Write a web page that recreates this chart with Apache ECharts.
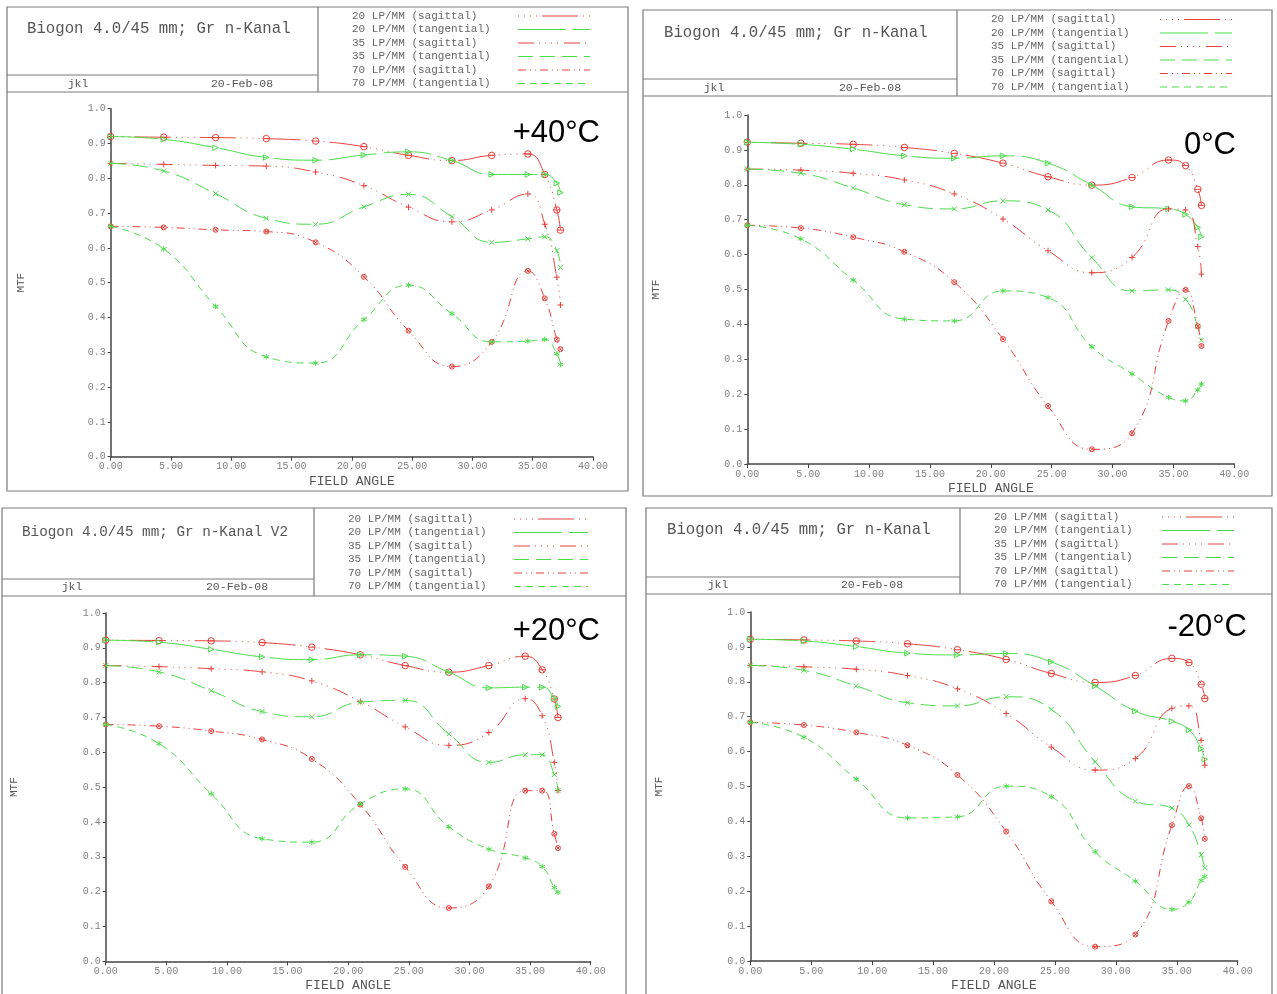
<!DOCTYPE html>
<html>
<head>
<meta charset="utf-8">
<script src="https://cdn.jsdelivr.net/npm/echarts@6/dist/echarts.min.js"></script>
<style>
  html, body { margin: 0; padding: 0; background: #fff; }
  #chart { width: 1277px; height: 994px; }
</style>
</head>
<body>
<div id="chart"></div>
<script>
// Field angles (degrees) at which MTF was evaluated
const fieldAngles = [0, 4.4, 8.7, 12.9, 17.0, 21.0, 24.7, 28.3, 31.6, 34.6, 36.0, 37.0, 37.3];

const seriesNames = [
  '20 LP/MM (sagittal)', '20 LP/MM (tangential)',
  '35 LP/MM (sagittal)', '35 LP/MM (tangential)',
  '70 LP/MM (sagittal)', '70 LP/MM (tangential)'
];

// +40°C
const p40_s20 = [0.920, 0.918, 0.917, 0.914, 0.907, 0.891, 0.866, 0.851, 0.866, 0.870, 0.811, 0.709, 0.651];
const p40_t20 = [0.920, 0.912, 0.888, 0.860, 0.852, 0.867, 0.876, 0.851, 0.811, 0.811, 0.811, 0.786, 0.759];
const p40_s35 = [0.843, 0.840, 0.837, 0.835, 0.818, 0.779, 0.717, 0.675, 0.709, 0.755, 0.668, 0.516, 0.436];
const p40_t35 = [0.843, 0.821, 0.756, 0.685, 0.668, 0.718, 0.754, 0.690, 0.616, 0.626, 0.632, 0.592, 0.544];
const p40_s70 = [0.662, 0.659, 0.652, 0.647, 0.616, 0.517, 0.362, 0.259, 0.330, 0.534, 0.455, 0.337, 0.309];
const p40_t70 = [0.662, 0.597, 0.432, 0.287, 0.269, 0.394, 0.493, 0.411, 0.330, 0.332, 0.337, 0.296, 0.265];

// 0°C
const p0_s20 = [0.922, 0.919, 0.916, 0.907, 0.890, 0.862, 0.823, 0.799, 0.821, 0.871, 0.855, 0.787, 0.741];
const p0_t20 = [0.922, 0.916, 0.902, 0.883, 0.876, 0.883, 0.862, 0.799, 0.737, 0.731, 0.715, 0.678, 0.651];
const p0_s35 = [0.845, 0.842, 0.833, 0.814, 0.774, 0.702, 0.611, 0.548, 0.592, 0.731, 0.728, 0.623, 0.544];
const p0_t35 = [0.845, 0.833, 0.791, 0.743, 0.731, 0.754, 0.728, 0.591, 0.496, 0.499, 0.472, 0.395, 0.355];
const p0_s70 = [0.684, 0.676, 0.650, 0.608, 0.521, 0.358, 0.166, 0.042, 0.088, 0.410, 0.499, 0.395, 0.338];
const p0_t70 = [0.684, 0.645, 0.527, 0.415, 0.410, 0.496, 0.477, 0.336, 0.258, 0.191, 0.181, 0.212, 0.229];

// +20°C
const p20_s20 = [0.922, 0.921, 0.920, 0.915, 0.902, 0.880, 0.849, 0.830, 0.849, 0.876, 0.837, 0.753, 0.700];
const p20_t20 = [0.922, 0.916, 0.896, 0.874, 0.866, 0.880, 0.876, 0.830, 0.785, 0.787, 0.787, 0.756, 0.732];
const p20_s35 = [0.849, 0.846, 0.840, 0.831, 0.805, 0.746, 0.673, 0.620, 0.657, 0.754, 0.705, 0.571, 0.490];
const p20_t35 = [0.849, 0.831, 0.777, 0.717, 0.702, 0.744, 0.749, 0.653, 0.571, 0.593, 0.593, 0.536, 0.490];
const p20_s70 = [0.680, 0.675, 0.661, 0.637, 0.581, 0.450, 0.271, 0.153, 0.215, 0.490, 0.490, 0.366, 0.325];
const p20_t70 = [0.680, 0.625, 0.481, 0.352, 0.342, 0.452, 0.495, 0.386, 0.322, 0.297, 0.272, 0.212, 0.198];

// -20°C
const m20_s20 = [0.922, 0.920, 0.917, 0.909, 0.892, 0.864, 0.824, 0.798, 0.818, 0.867, 0.855, 0.793, 0.752];
const m20_t20 = [0.922, 0.917, 0.901, 0.882, 0.877, 0.881, 0.857, 0.788, 0.716, 0.687, 0.662, 0.608, 0.578];
const m20_s35 = [0.847, 0.843, 0.836, 0.818, 0.780, 0.709, 0.613, 0.547, 0.580, 0.724, 0.731, 0.632, 0.561];
const m20_t35 = [0.847, 0.833, 0.788, 0.740, 0.731, 0.757, 0.721, 0.571, 0.458, 0.438, 0.390, 0.304, 0.267];
const m20_s70 = [0.684, 0.676, 0.655, 0.618, 0.533, 0.371, 0.171, 0.041, 0.076, 0.389, 0.501, 0.409, 0.350];
const m20_t70 = [0.684, 0.641, 0.521, 0.410, 0.413, 0.501, 0.471, 0.313, 0.229, 0.148, 0.169, 0.231, 0.242];

const RED = '#e8413c';
const GREEN = '#4bdc4b';
const MONO = '"Liberation Mono", "Courier New", monospace';

// Line look per series: colour, dash pattern and marker shape
const styles = [
  { color: RED,   dash: [1, 5, 1, 5, 1, 5, 1, 5, 36, 5],
    symbol: 'path://M0,5A5,5,0,1,1,10,5A5,5,0,1,1,0,5ZM0,5L10,5', size: 6.5 },
  { color: GREEN, dash: [48, 7],
    symbol: 'path://M0,0L10,5L0,10Z', size: 5.5 },
  { color: RED,   dash: [16, 5, 1, 5, 1, 5, 1, 5, 1, 6],
    symbol: 'path://M0,5L10,5M5,0L5,10', size: 6 },
  { color: GREEN, dash: [15, 7],
    symbol: 'path://M0,0L10,10M10,0L0,10', size: 5 },
  { color: RED,   dash: [8, 4, 1, 4, 1, 4],
    symbol: 'path://M0,5A5,5,0,1,1,10,5A5,5,0,1,1,0,5ZM1.5,1.5L8.5,8.5M8.5,1.5L1.5,8.5', size: 5 },
  { color: GREEN, dash: [7, 5],
    symbol: 'path://M5,0L5,10M0.7,2.5L9.3,7.5M9.3,2.5L0.7,7.5', size: 5.5 }
];

const panels = [
  { title: 'Biogon 4.0/45 mm; Gr n-Kanal', titleSize: 15.7, temp: '+40°C',
    data: [p40_s20, p40_t20, p40_s35, p40_t35, p40_s70, p40_t70],
    frame: [7, 7, 621, 484], divider: 318, titleLine: 75, headBottom: 92,
    titlePos: [27, 29], jkl: [78, 84], date: [242, 84],
    legend: { x: 352, y0: 16, s1: 518, s2: 590 }, tempPos: [600, 133],
    grid: { left: 110.7, top: 108.7, width: 482.3, height: 348 }, nameGap: 84 },
  { title: 'Biogon 4.0/45 mm; Gr n-Kanal', titleSize: 15.7, temp: '0°C',
    data: [p0_s20, p0_t20, p0_s35, p0_t35, p0_s70, p0_t70],
    frame: [643, 10, 629, 486], divider: 957, titleLine: 79, headBottom: 96,
    titlePos: [664, 33], jkl: [714, 88], date: [870, 88],
    legend: { x: 991, y0: 19.5, s1: 1160, s2: 1232 }, tempPos: [1236, 145],
    grid: { left: 747.3, top: 115, width: 487, height: 349 }, nameGap: 86 },
  { title: 'Biogon 4.0/45 mm; Gr n-Kanal V2', titleSize: 14.3, temp: '+20°C',
    data: [p20_s20, p20_t20, p20_s35, p20_t35, p20_s70, p20_t70],
    frame: [2, 508, 624, 500], divider: 314, titleLine: 579, headBottom: 596,
    titlePos: [22, 532], jkl: [72, 587], date: [237, 587],
    legend: { x: 348, y0: 519, s1: 514, s2: 588 }, tempPos: [600, 631],
    grid: { left: 105.7, top: 613, width: 485, height: 348.3 }, nameGap: 86 },
  { title: 'Biogon 4.0/45 mm; Gr n-Kanal', titleSize: 15.7, temp: '-20°C',
    data: [m20_s20, m20_t20, m20_s35, m20_t35, m20_s70, m20_t70],
    frame: [646, 508, 626, 500], divider: 960, titleLine: 577, headBottom: 594,
    titlePos: [667, 530], jkl: [718, 585], date: [872, 585],
    legend: { x: 994, y0: 517, s1: 1162, s2: 1234 }, tempPos: [1247, 627],
    grid: { left: 750.3, top: 612, width: 487.4, height: 349 }, nameGap: 86 }
];

const FRAME = '#7a7a7a';
const grids = [], xAxes = [], yAxes = [], series = [], graphics = [];

panels.forEach((p, i) => {
  grids.push(Object.assign({ containLabel: false }, p.grid));

  xAxes.push({
    gridIndex: i, type: 'value', min: 0, max: 40, interval: 5,
    name: 'FIELD ANGLE', nameLocation: 'middle', nameGap: 18,
    nameTextStyle: { fontFamily: MONO, fontSize: 13, color: '#555' },
    axisLine: { lineStyle: { color: '#444', width: 1.5 } },
    axisTick: { length: 4, lineStyle: { color: '#444' } },
    axisLabel: { formatter: v => v.toFixed(2), fontFamily: MONO, fontSize: 10, color: '#808080', margin: 5 },
    splitLine: { show: false }
  });
  yAxes.push({
    gridIndex: i, type: 'value', min: 0, max: 1, interval: 0.1,
    name: 'MTF', nameLocation: 'middle', nameGap: p.nameGap,
    nameTextStyle: { fontFamily: MONO, fontSize: 11, color: '#555' },
    axisLine: { show: true, lineStyle: { color: '#444', width: 1.5 } },
    axisTick: { show: true, length: 3, lineStyle: { color: '#444' } },
    axisLabel: { formatter: v => v.toFixed(1), fontFamily: MONO, fontSize: 10, color: '#808080', margin: 5 },
    splitLine: { show: false }
  });

  p.data.forEach((vals, k) => {
    const st = styles[k];
    series.push({
      type: 'line', name: seriesNames[k], xAxisIndex: i, yAxisIndex: i,
      data: fieldAngles.map((x, j) => [x, vals[j]]),
      smooth: 0.5, showSymbol: true, symbol: st.symbol, symbolSize: st.size,
      lineStyle: { color: st.color, width: 1, type: st.dash },
      itemStyle: { color: 'rgba(0,0,0,0)', borderColor: st.color, borderWidth: 1 },
      emphasis: { disabled: true }, silent: true, z: 2 + k
    });
  });

  // Header block: frame, dividers, title, author/date, legend keys
  const [fx, fy, fw, fh] = p.frame;
  graphics.push({ type: 'rect', shape: { x: fx, y: fy, width: fw, height: fh },
    style: { fill: 'none', stroke: FRAME, lineWidth: 1.2 } });
  graphics.push({ type: 'line', shape: { x1: p.divider, y1: fy, x2: p.divider, y2: p.headBottom },
    style: { stroke: FRAME, lineWidth: 1.2 } });
  graphics.push({ type: 'line', shape: { x1: fx, y1: p.titleLine, x2: p.divider, y2: p.titleLine },
    style: { stroke: FRAME, lineWidth: 1.2 } });
  graphics.push({ type: 'line', shape: { x1: fx, y1: p.headBottom, x2: fx + fw, y2: p.headBottom },
    style: { stroke: FRAME, lineWidth: 1.2 } });
  graphics.push({ type: 'text', x: p.titlePos[0], y: p.titlePos[1],
    style: { text: p.title, font: p.titleSize + 'px ' + MONO, fill: '#555', align: 'left', verticalAlign: 'middle' } });
  graphics.push({ type: 'text', x: p.jkl[0], y: p.jkl[1],
    style: { text: 'jkl', font: '11.5px ' + MONO, fill: '#555', align: 'center', verticalAlign: 'middle' } });
  graphics.push({ type: 'text', x: p.date[0], y: p.date[1],
    style: { text: '20-Feb-08', font: '11.5px ' + MONO, fill: '#555', align: 'center', verticalAlign: 'middle' } });
  seriesNames.forEach((nm, k) => {
    const y = p.legend.y0 + 13.5 * k;
    graphics.push({ type: 'text', x: p.legend.x, y: y,
      style: { text: nm, font: '11px ' + MONO, fill: '#666', align: 'left', verticalAlign: 'middle' } });
    graphics.push({ type: 'line', shape: { x1: p.legend.s1, y1: y, x2: p.legend.s2, y2: y },
      style: { stroke: styles[k].color, lineWidth: 1, lineDash: styles[k].dash } });
  });
  graphics.push({ type: 'text', x: p.tempPos[0], y: p.tempPos[1],
    style: { text: p.temp, font: '31px "Liberation Sans", Arial, sans-serif', fill: '#000', align: 'right', verticalAlign: 'middle' } });
});

const chart = echarts.init(document.getElementById('chart'), null, { renderer: 'canvas' });
chart.setOption({
  animation: false,
  backgroundColor: '#fff',
  grid: grids,
  xAxis: xAxes,
  yAxis: yAxes,
  series: series,
  graphic: graphics
});
</script>
</body>
</html>
